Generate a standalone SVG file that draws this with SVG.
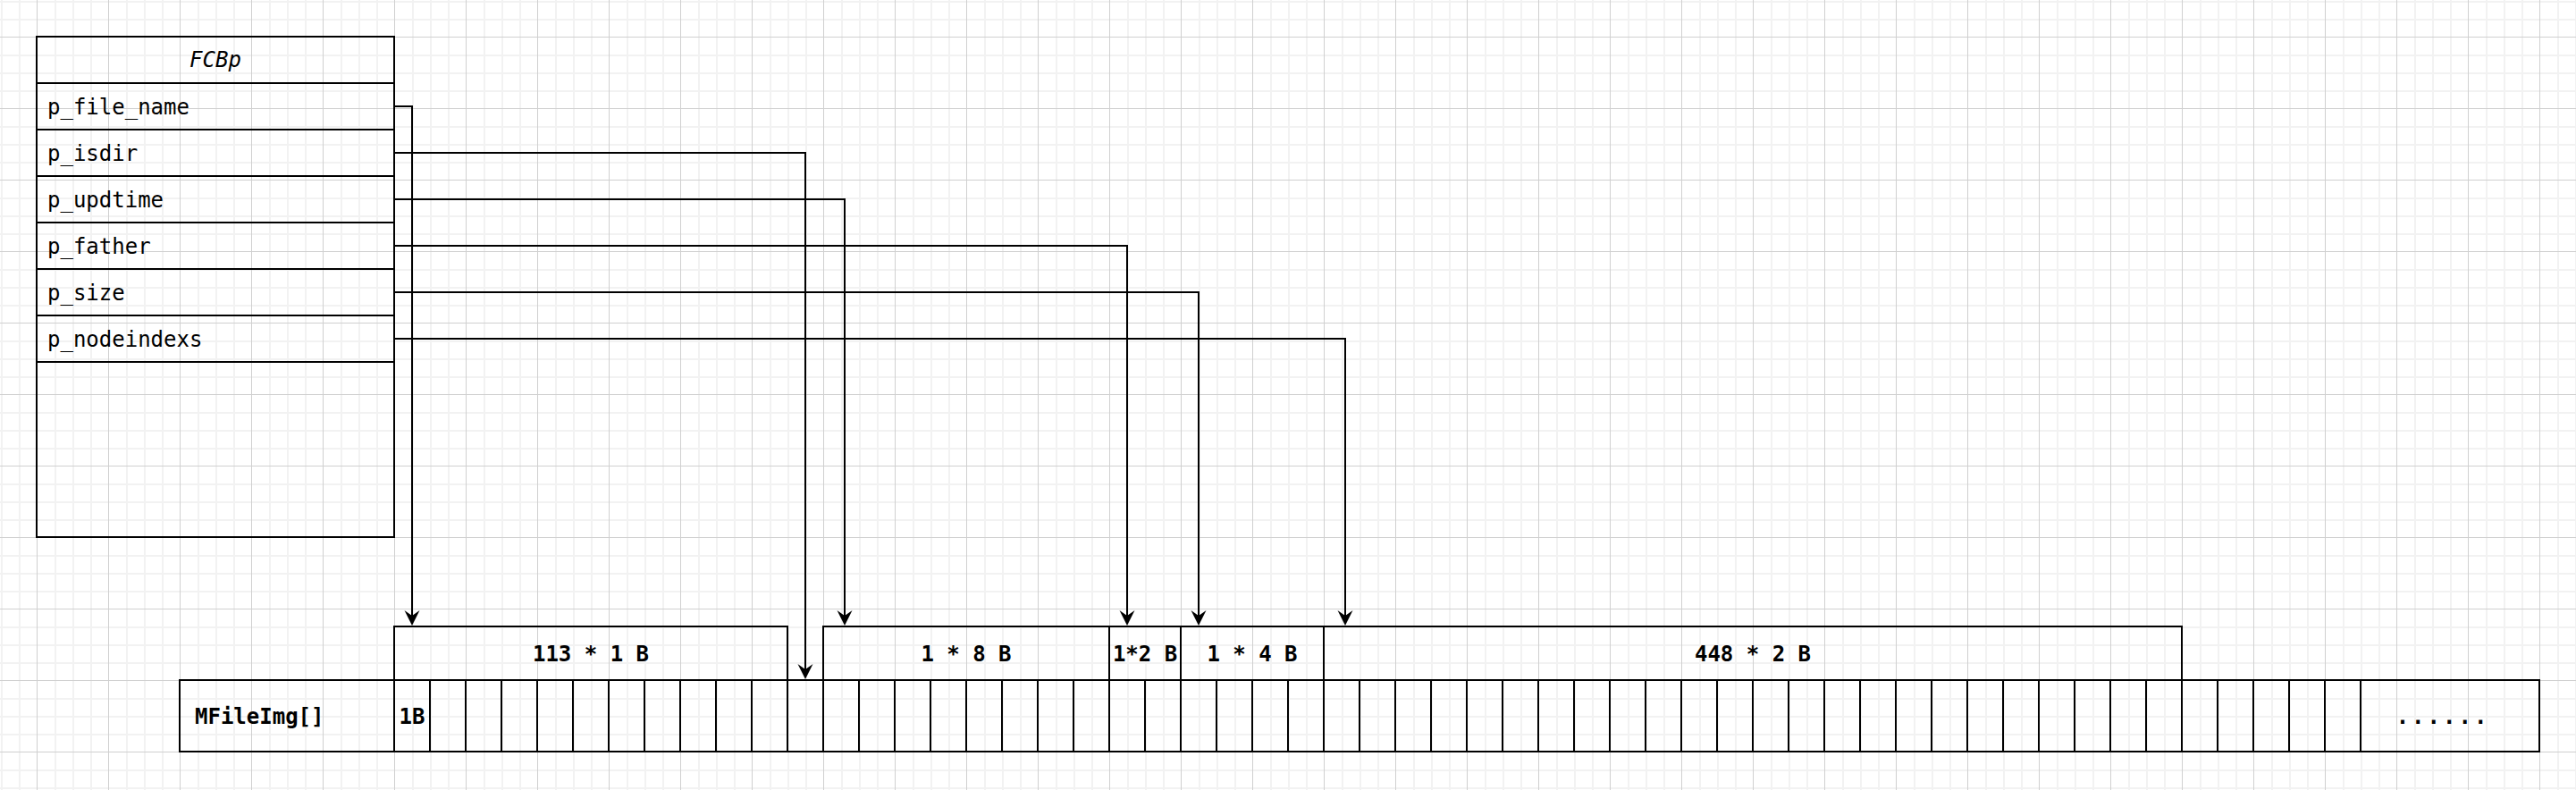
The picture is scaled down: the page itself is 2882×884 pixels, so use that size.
<svg xmlns="http://www.w3.org/2000/svg" width="2882" height="884" viewBox="0 0 2882 884">
<style>
.box{fill:none;stroke:#000;stroke-width:2}
.sep{stroke:#000;stroke-width:2}
.t{font-family:"DejaVu Sans Mono","Liberation Mono",monospace;font-size:24px;fill:#000}
.b{font-weight:bold}
.i{font-style:italic}
.edge{fill:none;stroke:#000;stroke-width:2}
</style>
<defs>
<pattern id="grid" patternUnits="userSpaceOnUse" x="41" y="41" width="80" height="80">
<rect x="20" y="0" width="2" height="80" fill="#f2f2f2"/>
<rect x="40" y="0" width="2" height="80" fill="#f2f2f2"/>
<rect x="60" y="0" width="2" height="80" fill="#f2f2f2"/>
<rect x="0" y="20" width="80" height="2" fill="#f2f2f2"/>
<rect x="0" y="40" width="80" height="2" fill="#f2f2f2"/>
<rect x="0" y="60" width="80" height="2" fill="#f2f2f2"/>
<rect x="0" y="0" width="1" height="80" fill="#d0d0d0"/>
<rect x="0" y="0" width="80" height="1" fill="#d0d0d0"/>
</pattern>
<marker id="arr" markerUnits="userSpaceOnUse" viewBox="-20 -10 22 20" markerWidth="22" markerHeight="20" refX="-4" refY="0" orient="auto">
<path d="M0,0 L-17,-8.5 L-11,0 L-17,8.5 Z" fill="#000"/>
</marker>
</defs>
<rect x="0" y="0" width="2882" height="884" fill="#fff"/>
<rect x="0" y="0" width="2882" height="884" fill="url(#grid)"/>

<g id="FCBp">
<rect class="box" x="41" y="41" width="400" height="560"/>
<line class="sep" x1="41" y1="93" x2="441" y2="93"/>
<line class="sep" x1="41" y1="145" x2="441" y2="145"/>
<line class="sep" x1="41" y1="197" x2="441" y2="197"/>
<line class="sep" x1="41" y1="249" x2="441" y2="249"/>
<line class="sep" x1="41" y1="301" x2="441" y2="301"/>
<line class="sep" x1="41" y1="353" x2="441" y2="353"/>
<line class="sep" x1="41" y1="405" x2="441" y2="405"/>
<text class="t i" x="241" y="75" text-anchor="middle">FCBp</text>
<text class="t" x="53" y="127.5">p_file_name</text>
<text class="t" x="53" y="179.5">p_isdir</text>
<text class="t" x="53" y="231.5">p_updtime</text>
<text class="t" x="53" y="283.5">p_father</text>
<text class="t" x="53" y="335.5">p_size</text>
<text class="t" x="53" y="387.5">p_nodeindexs</text>
</g>

<g id="hdr113">
<rect class="box" x="441" y="701" width="440" height="60"/>
<text class="t b" x="661" y="739.5" text-anchor="middle">113 * 1 B</text>
</g>
<g id="hdr8">
<rect class="box" x="921" y="701" width="320" height="60"/>
<text class="t b" x="1081" y="739.5" text-anchor="middle">1 * 8 B</text>
</g>
<g id="hdr2">
<rect class="box" x="1241" y="701" width="80" height="60"/>
<text class="t b" x="1281" y="739.5" text-anchor="middle">1*2 B</text>
</g>
<g id="hdr4">
<rect class="box" x="1321" y="701" width="160" height="60"/>
<text class="t b" x="1401" y="739.5" text-anchor="middle">1 * 4 B</text>
</g>
<g id="hdr448">
<rect class="box" x="1481" y="701" width="960" height="60"/>
<text class="t b" x="1961" y="739.5" text-anchor="middle">448 * 2 B</text>
</g>

<g id="MFileImg">
<rect class="box" x="201" y="761" width="2640" height="80"/>
<path class="edge" d="M441,761V841M481,761V841M521,761V841M561,761V841M601,761V841M641,761V841M681,761V841M721,761V841M761,761V841M801,761V841M841,761V841M881,761V841M921,761V841M961,761V841M1001,761V841M1041,761V841M1081,761V841M1121,761V841M1161,761V841M1201,761V841M1241,761V841M1281,761V841M1321,761V841M1361,761V841M1401,761V841M1441,761V841M1481,761V841M1521,761V841M1561,761V841M1601,761V841M1641,761V841M1681,761V841M1721,761V841M1761,761V841M1801,761V841M1841,761V841M1881,761V841M1921,761V841M1961,761V841M2001,761V841M2041,761V841M2081,761V841M2121,761V841M2161,761V841M2201,761V841M2241,761V841M2281,761V841M2321,761V841M2361,761V841M2401,761V841M2441,761V841M2481,761V841M2521,761V841M2561,761V841M2601,761V841M2641,761V841"/>
<text class="t b" x="218" y="809.5">MFileImg[]</text>
<text class="t b" x="461" y="809.5" text-anchor="middle">1B</text>
<text class="t b" x="2733" y="809.5" text-anchor="middle" letter-spacing="3">......</text>
</g>

<g id="connectors">
<path class="edge" d="M441,119H461V696" marker-end="url(#arr)"/>
<path class="edge" d="M441,171H901V756" marker-end="url(#arr)"/>
<path class="edge" d="M441,223H945V696" marker-end="url(#arr)"/>
<path class="edge" d="M441,275H1261V696" marker-end="url(#arr)"/>
<path class="edge" d="M441,327H1341V696" marker-end="url(#arr)"/>
<path class="edge" d="M441,379H1505V696" marker-end="url(#arr)"/>
</g>
</svg>
